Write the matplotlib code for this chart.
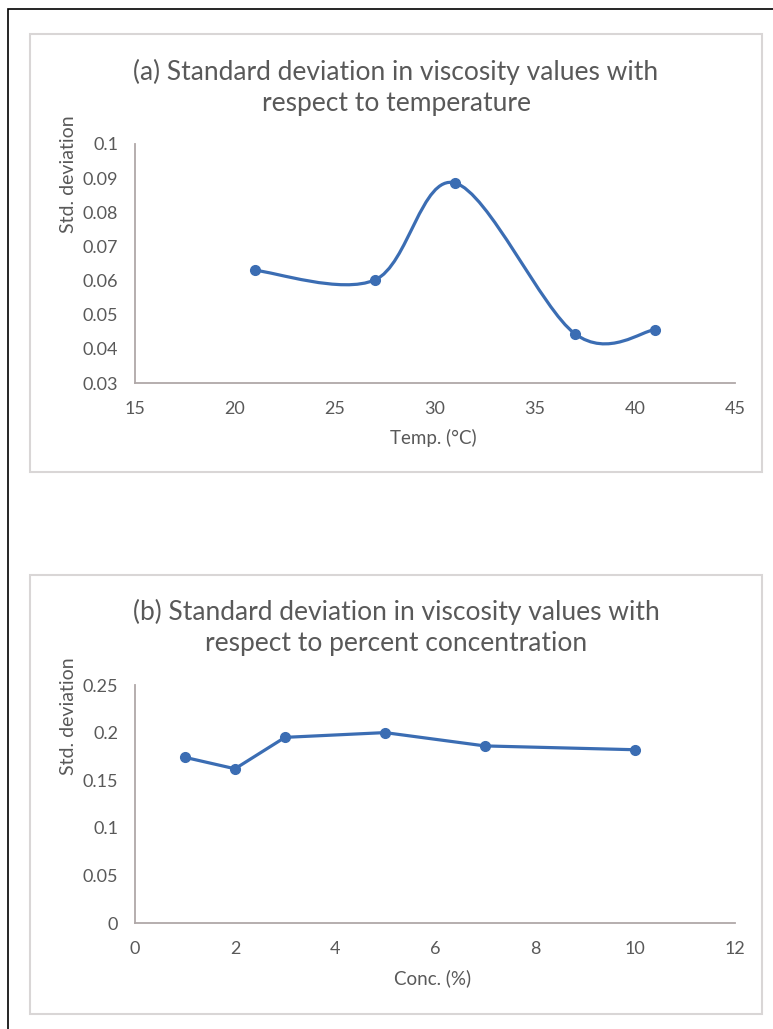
import numpy as np
import matplotlib
matplotlib.use('Agg')
import matplotlib.pyplot as plt
from matplotlib.path import Path
from matplotlib.patches import PathPatch, Rectangle

plt.rcParams['font.family'] = ['Lato', 'DejaVu Sans']

# (a) std. deviation vs temperature
temp = [21, 27, 31, 37, 41]
sd_temp = [0.063, 0.0602, 0.0886, 0.0444, 0.0456]
# (b) std. deviation vs concentration
conc = [1, 2, 3, 5, 7, 10]
sd_conc = [0.174, 0.162, 0.195, 0.2, 0.186, 0.182]

title_a = "(a) Standard deviation in viscosity values with\nrespect to temperature"
title_b = "(b) Standard deviation in viscosity values with\nrespect to percent concentration"

blue = '#3b6db3'
txt = '#595959'
W, H = 773, 1029


def smooth_path(x, y):
    # excel style smoothed line: cubic bezier, catmull-rom control points
    p = np.column_stack([x, y]).astype(float)
    pp = np.vstack([p[0], p, p[-1]])
    verts = [p[0]]
    codes = [Path.MOVETO]
    for i in range(1, len(pp) - 2):
        c1 = pp[i] + (pp[i + 1] - pp[i - 1]) / 6
        c2 = pp[i + 1] - (pp[i + 2] - pp[i]) / 6
        verts += [c1, c2, pp[i + 1]]
        codes += [Path.CURVE4] * 3
    return Path(verts, codes)


def px_axes(fig, x0, y0, x1, y1):
    return fig.add_axes([x0 / W, 1 - y1 / H, (x1 - x0) / W, (y1 - y0) / H])


def style(ax):
    for s in ['top', 'right']:
        ax.spines[s].set_visible(False)
    for s in ['left', 'bottom']:
        ax.spines[s].set_color('#b0a8a8')
        ax.spines[s].set_linewidth(1.3)
    ax.tick_params(length=0, colors=txt, labelsize=13)
    ax.tick_params(axis='x', pad=13)
    ax.tick_params(axis='y', pad=12)
    ax.set_facecolor('none')


fig = plt.figure(figsize=(W / 100, H / 100), dpi=100)

# outer frame (right and bottom edges fall off the page) and chart boxes
fig.patches.append(Rectangle((8 / W, -0.1), 1, 1.1 - 9 / H, transform=fig.transFigure,
                             fill=False, edgecolor='black', linewidth=1.2))
for top, bot in [(34, 472), (575, 1014)]:
    fig.patches.append(Rectangle((30 / W, 1 - bot / H), 732 / W, (bot - top) / H,
                                 transform=fig.transFigure, fill=False,
                                 edgecolor='#d9d6d6', linewidth=1.5))

# chart (a)
ax1 = px_axes(fig, 135, 144, 735, 383)
style(ax1)
ax1.add_patch(PathPatch(smooth_path(temp, sd_temp), fill=False, edgecolor=blue,
                        linewidth=2.3, capstyle='round'))
ax1.plot(temp, sd_temp, 'o', color=blue, markersize=7)
ax1.set_xlim(15, 45)
ax1.set_ylim(0.03, 0.1)
ax1.set_xticks([15, 20, 25, 30, 35, 40, 45])
ax1.set_yticks([0.03, 0.04, 0.05, 0.06, 0.07, 0.08, 0.09, 0.1])
ax1.set_yticklabels(['0.03', '0.04', '0.05', '0.06', '0.07', '0.08', '0.09', '0.1'])

# chart (b)
ax2 = px_axes(fig, 135, 685, 735, 923)
style(ax2)
ax2.plot(conc, sd_conc, '-o', color=blue, linewidth=2.3, markersize=7)
ax2.set_xlim(0, 12)
ax2.set_ylim(0, 0.25)
ax2.set_xticks([0, 2, 4, 6, 8, 10, 12])
ax2.set_yticks([0, 0.05, 0.1, 0.15, 0.2, 0.25])
ax2.set_yticklabels(['0', '0.05', '0.1', '0.15', '0.2', '0.25'])

# titles and axis labels
fig.text(396 / W, 1 - 87 / H, title_a, ha='center', va='center', fontsize=19,
         color=txt, linespacing=1.3)
fig.text(396 / W, 1 - 627 / H, title_b, ha='center', va='center', fontsize=19,
         color=txt, linespacing=1.3)
fig.text(68 / W, 1 - 174 / H, 'Std. deviation', rotation=90, ha='center', va='center',
         fontsize=14, color=txt)
fig.text(68 / W, 1 - 716 / H, 'Std. deviation', rotation=90, ha='center', va='center',
         fontsize=14, color=txt)
fig.text(433 / W, 1 - 438 / H, 'Temp. (°C)', ha='center', va='center', fontsize=13.5,
         color=txt)
fig.text(433 / W, 1 - 978 / H, 'Conc. (%)', ha='center', va='center', fontsize=13.5,
         color=txt)

fig.savefig('out.png', dpi=100)
